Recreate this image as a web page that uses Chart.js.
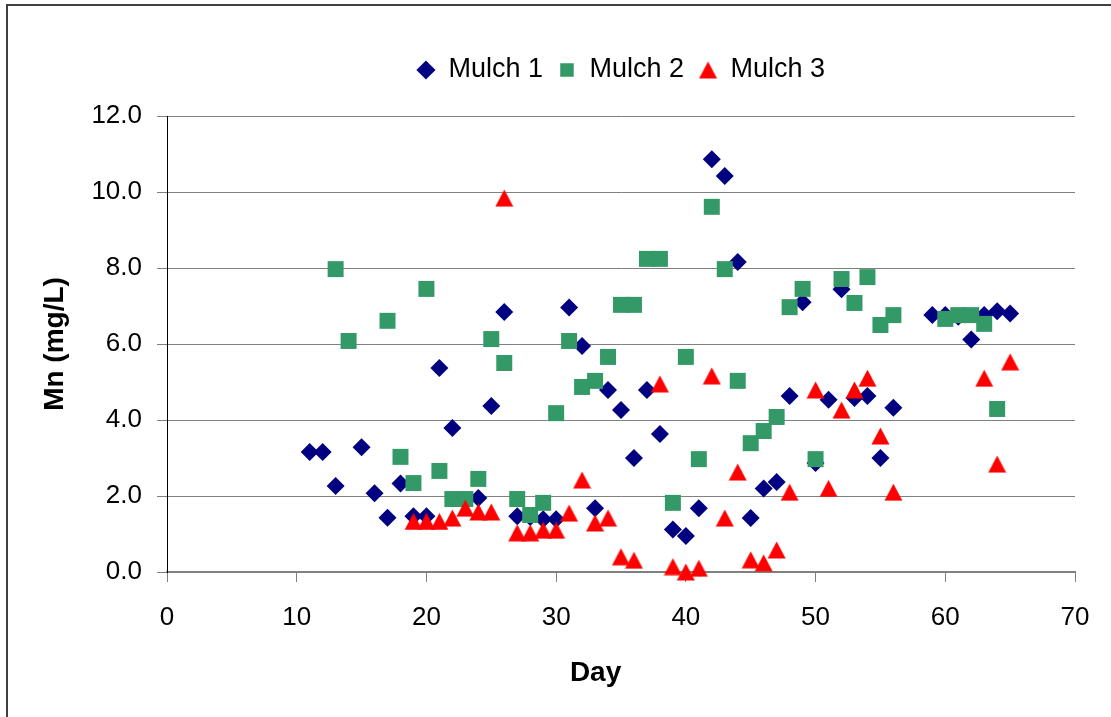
<!DOCTYPE html>
<html>
<head>
<meta charset="utf-8">
<script src="https://cdn.jsdelivr.net/npm/chart.js@4.4.1/dist/chart.umd.min.js"></script>
<style>
  html, body { margin: 0; padding: 0; background: #fff; }
  #wrap { width: 1111px; height: 717px; position: relative; }
</style>
</head>
<body>
<div id="wrap"><canvas id="mnChart"></canvas></div>
<script>
// Mn concentration per mulch
const days1 = [11,12,13,15,16,17,18,19,20,21,22,24,25,26,27,28,29,30,31,32,33,34,35,36,37,38,39,40,41,42,43,44,45,46,47,48,49,50,51,52,53,54,55,56,59,60,61,62,63,64,65];
const mulch1 = [3.16,3.16,2.26,3.28,2.07,1.43,2.33,1.47,1.47,5.37,3.79,1.95,4.37,6.84,1.47,1.45,1.39,1.39,6.96,5.95,1.68,4.79,4.26,3.0,4.79,3.63,1.12,0.95,1.68,10.86,10.42,8.16,1.42,2.2,2.37,4.63,7.1,2.87,4.53,7.44,4.58,4.63,3.0,4.32,6.76,6.76,6.72,6.12,6.76,6.86,6.8];

const days2 = [13,14,17,18,19,20,21,22,23,24,25,26,27,28,29,30,31,32,33,34,35,36,37,38,39,40,41,42,43,44,45,46,47,48,49,50,52,53,54,55,56,60,61,62,63,64];
const mulch2 = [7.97,6.08,6.61,3.03,2.34,7.45,2.66,1.92,1.92,2.45,6.13,5.5,1.92,1.5,1.82,4.18,6.08,4.87,5.03,5.66,7.03,7.03,8.24,8.24,1.82,5.66,2.97,9.61,7.97,5.03,3.39,3.71,4.08,6.97,7.45,2.97,7.71,7.08,7.76,6.5,6.76,6.66,6.76,6.76,6.53,4.29];

const days3 = [19,20,21,22,23,24,25,26,27,28,29,30,31,32,33,34,35,36,38,39,40,41,42,43,44,45,46,47,48,50,51,52,53,54,55,56,63,64,65];
const mulch3 = [1.33,1.33,1.33,1.42,1.68,1.58,1.58,9.84,1.03,1.03,1.1,1.1,1.55,2.42,1.29,1.42,0.4,0.31,4.95,0.14,0.0,0.1,5.16,1.42,2.63,0.32,0.24,0.58,2.1,4.79,2.2,4.26,4.79,5.1,3.58,2.1,5.1,2.84,5.53];

const seriesNames = ['Mulch 1', 'Mulch 2', 'Mulch 3'];
const xTicks = [0, 10, 20, 30, 40, 50, 60, 70];
const yTicks = [0, 2, 4, 6, 8, 10, 12];
const xTitle = 'Day';

function toPoints(xs, ys) {
    return xs.map((x, i) => ({ x: x, y: ys[i] }));
}

// spreadsheet-style triangle: centred on its bounding box, not its centroid
function makeTriangle(color) {
    const cv = document.createElement('canvas');
    cv.width = 19;
    cv.height = 18;
    const g = cv.getContext('2d');
    g.fillStyle = color;
    g.beginPath();
    g.moveTo(9.5, 0.5);
    g.lineTo(18.5, 17.5);
    g.lineTo(0.5, 17.5);
    g.closePath();
    g.fill();
    return cv;
}

Chart.defaults.font.family = "'Liberation Sans', Arial, sans-serif";
Chart.defaults.color = '#000';

// outer frame like the spreadsheet chart border, plus the x title
// (the original sits a bit left of the plot centre)
const framePlugin = {
    id: 'frame',
    afterDraw(chart) {
        const c = chart.ctx;
        c.save();
        c.strokeStyle = '#404040';
        c.lineWidth = 2;
        c.beginPath();
        c.moveTo(7, 717);
        c.lineTo(7, 5);
        c.lineTo(1111, 5);
        c.stroke();

        c.fillStyle = '#000';
        c.font = "bold 28px 'Liberation Sans', Arial, sans-serif";
        c.textAlign = 'center';
        c.textBaseline = 'middle';
        c.fillText(xTitle, chart.chartArea.left + chart.chartArea.width * 0.472, 673);
        c.restore();
    }
};

const ctx = document.getElementById('mnChart');
new Chart(ctx, {
    type: 'scatter',
    data: {
        datasets: [{
            label: seriesNames[0],
            data: toPoints(days1, mulch1),
            pointStyle: 'rectRot',
            pointRadius: 9,
            pointBorderWidth: 0,
            backgroundColor: '#000080',
            borderColor: '#000080',
            order: 3,
            clip: false
        }, {
            label: seriesNames[1],
            data: toPoints(days2, mulch2),
            pointStyle: 'rect',
            pointRadius: 11.3,
            pointBorderWidth: 0,
            backgroundColor: '#339966',
            borderColor: '#339966',
            order: 2,
            clip: false
        }, {
            label: seriesNames[2],
            data: toPoints(days3, mulch3),
            pointStyle: makeTriangle('#ff0000'),
            pointRadius: 10,
            pointBorderWidth: 0,
            backgroundColor: '#ff0000',
            borderColor: '#ff0000',
            order: 1,
            clip: false
        }]
    },
    options: {
        responsive: true,
        maintainAspectRatio: false,
        animation: false,
        layout: { padding: { top: 41.5, right: 36, bottom: 0, left: 0 } },
        plugins: {
            legend: {
                position: 'top',
                fullSize: false,
                labels: {
                    usePointStyle: true,
                    boxWidth: 18,
                    boxHeight: 13.5,
                    padding: 15,
                    color: '#000',
                    font: { size: 27 },
                    sort: (a, b) => a.datasetIndex - b.datasetIndex
                }
            },
            // empty spacer between legend and plot area
            title: {
                display: true,
                text: '',
                position: 'top',
                fullSize: false,
                weight: 500,
                font: { size: 10 },
                padding: { top: 10.5, bottom: 0 }
            },
            tooltip: { enabled: false }
        },
        scales: {
            x: {
                type: 'linear',
                min: xTicks[0],
                max: xTicks[xTicks.length - 1],
                afterFit(scale) { scale.height = 145; },
                afterBuildTicks(scale) { scale.ticks = xTicks.map(v => ({ value: v })); },
                ticks: {
                    color: '#000',
                    padding: 20,
                    font: { size: 26 },
                    maxRotation: 0
                },
                grid: {
                    drawOnChartArea: false,
                    tickLength: 10,
                    tickColor: '#808080'
                },
                border: { color: '#808080', width: 2 }
            },
            y: {
                type: 'linear',
                min: yTicks[0],
                max: yTicks[yTicks.length - 1],
                afterFit(scale) { scale.width = 167; },
                afterBuildTicks(scale) { scale.ticks = yTicks.map(v => ({ value: v })); },
                ticks: {
                    color: '#000',
                    padding: 15,
                    font: { size: 26 },
                    callback: v => v.toFixed(1)
                },
                grid: {
                    color: '#808080',
                    tickLength: 10,
                    tickColor: '#808080'
                },
                border: { color: '#000', width: 1 },
                title: {
                    display: true,
                    text: 'Mn (mg/L)',
                    color: '#000',
                    font: { size: 28, weight: 'bold' },
                    padding: { top: 38, bottom: 0 }
                }
            }
        }
    },
    plugins: [framePlugin]
});
</script>
</body>
</html>
